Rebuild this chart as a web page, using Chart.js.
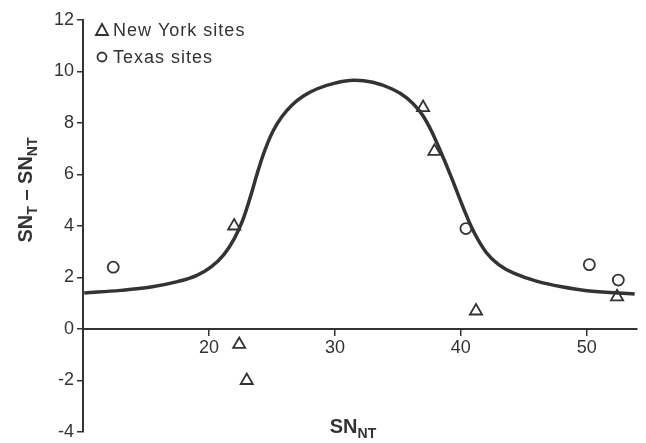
<!DOCTYPE html>
<html>
<head>
<meta charset="utf-8">
<script src="https://cdn.jsdelivr.net/npm/chart.js@4/dist/chart.umd.min.js"></script>
<style>
  html, body { margin: 0; padding: 0; background: #fff; }
  #wrap { width: 646px; height: 443px; }
</style>
</head>
<body>
<div id="wrap"><canvas id="chart" width="646" height="443"></canvas></div>
<script>
// values (fitted curve traced by eye)
const curveX = [10.1, 13.0, 15.5, 17.5, 19.0, 20.2, 21.2, 22.0, 22.7, 23.3, 23.9, 24.5, 25.1, 25.8, 26.6, 27.5, 28.6, 30.0, 31.5, 33.0, 34.5, 35.7, 36.7, 37.5, 38.3, 39.2, 40.2, 41.0, 42.0, 43.0, 44.2, 46.0, 48.0, 50.2, 53.8];
const curveY = [1.40, 1.50, 1.64, 1.84, 2.07, 2.42, 2.90, 3.50, 4.25, 5.15, 6.15, 7.02, 7.70, 8.25, 8.70, 9.05, 9.33, 9.55, 9.66, 9.58, 9.33, 8.98, 8.48, 7.85, 7.00, 5.95, 4.70, 3.80, 2.98, 2.50, 2.17, 1.86, 1.64, 1.48, 1.36];

const nyX = [22.0, 22.4, 23.0, 37.0, 37.9, 41.2, 52.4];
const nyY = [4.0, -0.6, -2.0, 8.6, 6.9, 0.7, 1.25];

const txX = [12.4, 40.4, 50.2, 52.5];
const txY = [2.4, 3.9, 2.5, 1.9];

const xTicks = [20, 30, 40, 50];
const yTicks = [-4, -2, 0, 2, 4, 6, 8, 10, 12];

const ink = '#333';
const toPts = (xs, ys) => xs.map((x, i) => ({ x: x, y: ys[i] }));

// axis titles with subscripts + legend in the top-left corner
const extras = {
  id: 'extras',
  afterDraw(chart) {
    const ctx = chart.ctx;
    ctx.save();
    ctx.fillStyle = ink;
    ctx.strokeStyle = ink;
    ctx.textBaseline = 'alphabetic';

    // text pieces centred on 0, subscripts dropped a little
    function subText(parts, big, small) {
      let w = 0;
      parts.forEach(p => {
        ctx.font = (p.sub ? small : big);
        w += ctx.measureText(p.t).width;
      });
      let x = -w / 2;
      parts.forEach(p => {
        ctx.font = (p.sub ? small : big);
        ctx.fillText(p.t, x, p.sub ? 5 : 0);
        x += ctx.measureText(p.t).width;
      });
    }

    ctx.save();
    ctx.translate(353, 433);
    subText([{ t: 'SN' }, { t: 'NT', sub: true }], 'bold 20px "Liberation Sans"', 'bold 14px "Liberation Sans"');
    ctx.restore();

    ctx.save();
    ctx.translate(32, 190);
    ctx.rotate(-Math.PI / 2);
    subText([{ t: 'SN' }, { t: 'T', sub: true }, { t: ' \u2013 SN' }, { t: 'NT', sub: true }], 'bold 20px "Liberation Sans"', 'bold 14px "Liberation Sans"');
    ctx.restore();

    // legend
    ctx.lineWidth = 1.8;
    ctx.beginPath();
    ctx.moveTo(96, 35);
    ctx.lineTo(102, 24);
    ctx.lineTo(108, 35);
    ctx.closePath();
    ctx.stroke();
    ctx.beginPath();
    ctx.arc(102, 57, 4.5, 0, Math.PI * 2);
    ctx.stroke();
    ctx.font = '18px "Liberation Sans"';
    ctx.letterSpacing = '1px';
    ctx.textAlign = 'left';
    ctx.fillText('New York sites', 113, 36);
    ctx.fillText('Texas sites', 113, 63);
    ctx.restore();
  }
};

new Chart(document.getElementById('chart'), {
  type: 'scatter',
  data: {
    datasets: [
      {
        label: 'fit',
        data: toPts(curveX, curveY),
        showLine: true,
        borderColor: ink,
        borderWidth: 3.5,
        pointRadius: 0,
        tension: 0.4,
        order: 2
      },
      {
        label: 'New York sites',
        data: toPts(nyX, nyY),
        pointStyle: 'triangle',
        pointRadius: 7,
        backgroundColor: 'rgba(255,255,255,0)',
        borderColor: ink,
        borderWidth: 1.8,
        order: 1
      },
      {
        label: 'Texas sites',
        data: toPts(txX, txY),
        pointStyle: 'circle',
        pointRadius: 5.5,
        backgroundColor: 'rgba(255,255,255,0)',
        borderColor: ink,
        borderWidth: 1.8,
        order: 1
      }
    ]
  },
  options: {
    responsive: false,
    animation: false,
    layout: { padding: { top: 20, right: 4, bottom: 11, left: 0 } },
    plugins: {
      legend: { display: false },
      tooltip: { enabled: false }
    },
    scales: {
      x: {
        type: 'linear',
        min: 10,
        max: 54,
        position: { y: 0 },
        afterBuildTicks: (s) => { s.ticks = xTicks.map(v => ({ value: v })); },
        afterFit: (s) => { s.paddingLeft = 0; s.paddingRight = 0; },
        grid: { drawOnChartArea: false, drawTicks: true, tickLength: 6, color: ink, lineWidth: 1.5 },
        border: { display: true, color: ink, width: 2 },
        ticks: { color: ink, font: { family: 'Liberation Sans', size: 18 }, padding: 2, maxRotation: 0 }
      },
      y: {
        type: 'linear',
        min: -4,
        max: 12,
        afterBuildTicks: (s) => { s.ticks = yTicks.map(v => ({ value: v })); },
        afterFit: (s) => { s.width = 83; s.paddingTop = 0; s.paddingBottom = 0; },
        grid: { drawOnChartArea: false, drawTicks: true, tickLength: 6, color: ink, lineWidth: 1.5 },
        border: { display: true, color: ink, width: 2 },
        ticks: { color: ink, font: { family: 'Liberation Sans', size: 18 }, padding: 3 }
      }
    }
  },
  plugins: [extras]
});
</script>
</body>
</html>
